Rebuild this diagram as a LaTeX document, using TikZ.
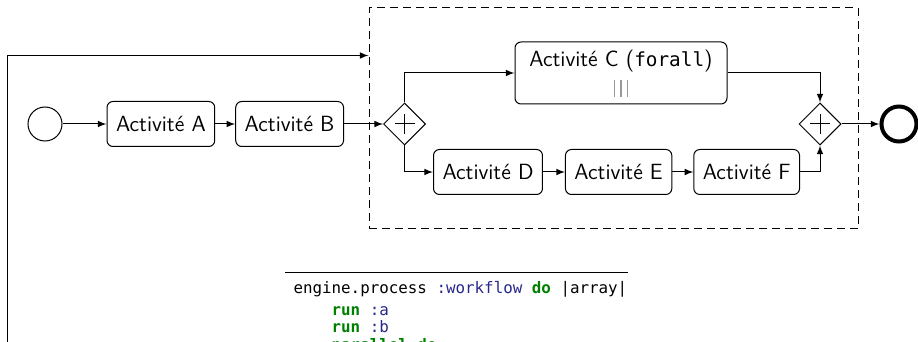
\documentclass[tikz,border=0pt]{standalone}
\usepackage{fontspec}
\setmonofont[Scale=0.88]{DejaVu Sans Mono}
\usetikzlibrary{shapes,positioning,arrows,calc}
\definecolor{kwgreen}{RGB}{0,128,0}
\definecolor{symblue}{RGB}{40,40,140}

\begin{document}
\begin{tikzpicture}[x=0.5pt, y=-0.5pt, >=latex, line width=0.5pt,
	every node/.style={font=\sffamily\fontsize{11}{13}\selectfont},
	activity/.style={draw, rounded corners=3pt, minimum height=22.5pt, inner xsep=4.5pt},
	gateway/.style={draw, diamond, minimum size=21pt, inner sep=0pt,
		path picture={\draw ([xshift=-5pt]path picture bounding box.center) -- ([xshift=5pt]path picture bounding box.center);
			\draw ([yshift=-5pt]path picture bounding box.center) -- ([yshift=5pt]path picture bounding box.center);}},
	event/.style={draw, circle, minimum size=17pt, inner sep=0pt},
	loopbox/.style={draw, dash pattern=on 4pt off 2.5pt, minimum width=244.5pt, minimum height=110.5pt}]
					\useasboundingbox (0,0) rectangle (918,342);
					
					\node[loopbox] (loop) at (613.5,118.5) {};
					
					\node[event] (start) at (45,124) {};
					\node[activity, right=22pt of start] (a) {Activité A};
					\node[activity, right=10pt of a] (b) {Activité B};
					\node[gateway, right=19.5pt of b] (g1) {};
					\node[activity, minimum width=106pt, minimum height=31pt, text height=8pt, text depth=14pt] (c) at (621,73) {Activité C (\texttt{forall})};
					\node[activity, anchor=west] (d) at (433,172) {Activité D};
					\node[activity, right=11pt of d] (e) {Activité E};
					\node[activity, right=10.5pt of e] (f) {Activité F};
					\node[gateway] (g2) at (820,124) {};
					\node[event, minimum size=17.5pt, line width=2pt, right=19pt of g2] (finish) {};
					
					\foreach \dx in {-3.4pt,0pt,3.4pt}
						\draw[gray!80, line width=0.6pt] ([xshift=\dx, yshift=-3.5pt]c.center) -- ++(0,-8.5pt);
					
					\draw[->] (start) -- (a);
					\draw[->] (a) -- (b);
					\draw[->] (b) -- (g1);
					\draw[->] (g1.north) |- (c.west);
					\draw[->] (g1.south) |- (d.west);
					\draw[->] (d) -- (e);
					\draw[->] (e) -- (f);
					\draw[->] (c.east) -| (g2.north);
					\draw[->] (f.east) -| (g2.south);
					\draw[->] (g2) -- (finish);
					
					\coordinate (back) at (7,370);
					\draw[->] (back) |- ($(loop.north west)+(0,48)$);
					
					\node[anchor=north west, inner sep=0pt, align=left, font=\ttfamily\fontsize{9}{8.75}\selectfont] (code) at (293,281) {engine.process \textcolor{symblue}{:workflow} \textbf{\textcolor{kwgreen}{do}} |array|\\[2pt]
						\hphantom{xxxx}\textbf{\textcolor{kwgreen}{run}} \textcolor{symblue}{:a}\\
						\hphantom{xxxx}\textbf{\textcolor{kwgreen}{run}} \textcolor{symblue}{:b}\\
						\hphantom{xxxx}\textbf{\textcolor{kwgreen}{parallel do}}};
					\draw ([shift={(-4pt,4pt)}]code.north west) -- ([yshift=4pt]code.north east);
				\end{tikzpicture}
\end{document}
